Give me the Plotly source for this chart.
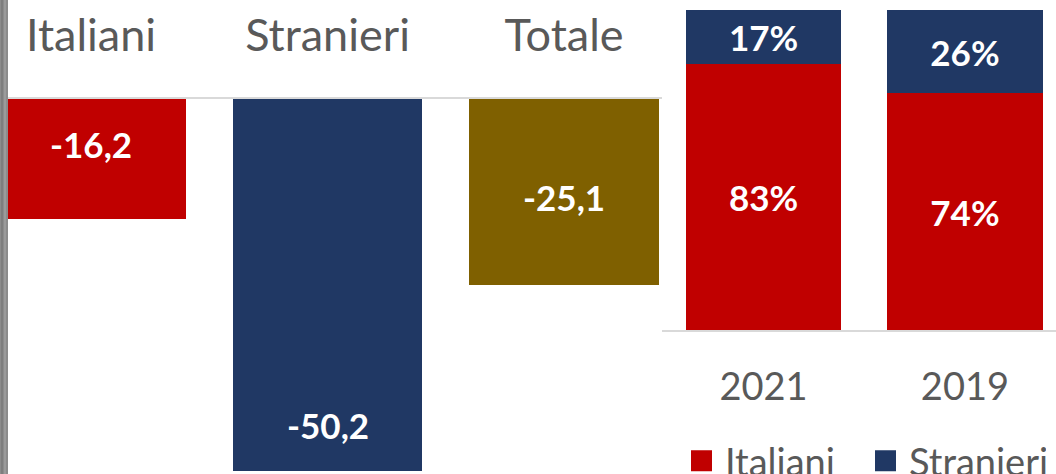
import plotly.graph_objects as go

# ---- data ----
categories = ["Italiani", "Stranieri", "Totale"]
variazione = [-16.2, -50.2, -25.1]
anni = ["2021", "2019"]
quota_italiani = [83, 74]
quota_stranieri = [17, 26]
serie_nomi = ["Italiani", "Stranieri"]

# ---- style ----
RED = "#C00000"
NAVY = "#203864"
OLIVE = "#7F6000"
GREY_TXT = "#595959"
LINE = "#D9D9D9"
FONT = "Lato"
W, H = 1056, 474


def fx(p):
    return p / W


def fy(p):
    return 1 - p / H


fig = go.Figure()

# left: variation bars
fig.add_trace(go.Bar(
    x=categories, y=variazione, width=0.8,
    marker=dict(color=[RED, NAVY, OLIVE], line_width=0),
    xaxis="x", yaxis="y", showlegend=False, hoverinfo="skip",
))

# right: composition stacked bars
fig.add_trace(go.Bar(
    x=anni, y=quota_italiani, name=serie_nomi[0], width=0.77,
    marker=dict(color=RED, line_width=0),
    texttemplate="%{y}%", textposition="inside", insidetextanchor="middle",
    constraintext="none",
    textfont=dict(family=FONT, size=35, color="white", weight="bold"),
    xaxis="x2", yaxis="y2", showlegend=False, hoverinfo="skip",
))
fig.add_trace(go.Bar(
    x=anni, y=quota_stranieri, name=serie_nomi[1], width=0.77,
    marker=dict(color=NAVY, line_width=0),
    texttemplate="%{y}%", textposition="inside", insidetextanchor="middle",
    constraintext="none",
    textfont=dict(family=FONT, size=35, color="white", weight="bold"),
    xaxis="x2", yaxis="y2", showlegend=False, hoverinfo="skip",
))

# legend entries
for nome, col in zip(serie_nomi, [RED, NAVY]):
    fig.add_trace(go.Scatter(
        x=[None], y=[None], mode="markers", name=nome,
        marker=dict(symbol="square", size=16, color=col, line=dict(color=col, width=5)),
        xaxis="x2", yaxis="y2", showlegend=True, hoverinfo="skip",
    ))

# left data labels
shifts = [15, 46, -5]
for cat, v, s in zip(categories, variazione, shifts):
    y = v if cat == "Stranieri" else v / 2
    fig.add_annotation(
        x=cat, y=y, xref="x", yref="y", yshift=s, showarrow=False,
        text=f"{v:.1f}".replace(".", ","),
        font=dict(family=FONT, size=35, color="white", weight="bold"),
    )

# textured stone strip on the left edge
fig.add_shape(type="rect", xref="paper", yref="paper", x0=0, x1=fx(8), y0=0, y1=1,
              fillcolor="#8c8c8c", line_width=0, layer="above")
for xp, c in [(2, "#7a7a7a"), (5, "#a0a0a0")]:
    fig.add_shape(type="line", xref="paper", yref="paper", x0=fx(xp), x1=fx(xp), y0=0, y1=1,
                  line=dict(color=c, width=1.5), layer="above")

fig.update_layout(
    width=W, height=H,
    margin=dict(l=0, r=0, t=0, b=0, autoexpand=False),
    paper_bgcolor="white", plot_bgcolor="white",
    barmode="stack",
    separators=",.",
    xaxis=dict(
        domain=[0, fx(683)], range=[-0.385, 2.503], side="top", anchor="y",
        showline=True, linecolor=LINE, linewidth=2, ticks="", showgrid=False,
        zeroline=False, ticklabelstandoff=28,
        tickfont=dict(family=FONT, size=45, color=GREY_TXT),
    ),
    yaxis=dict(domain=[0, fy(99)], range=[-50.6, 0], visible=False, anchor="x"),
    xaxis2=dict(
        domain=[fx(662), 1], range=[-0.504, 1.452], side="bottom", anchor="y2",
        showline=True, linecolor=LINE, linewidth=2, ticks="", showgrid=False,
        zeroline=False, ticklabelstandoff=22,
        tickfont=dict(family=FONT, size=38, color=GREY_TXT),
    ),
    yaxis2=dict(domain=[fy(330), fy(10)], range=[0, 100], visible=False, anchor="x2"),
    legend=dict(
        orientation="h", x=fx(678), xanchor="left", y=fy(461), yanchor="middle",
        traceorder="normal", entrywidth=132, entrywidthmode="pixels", itemwidth=37,
        font=dict(family=FONT, size=38, color=GREY_TXT),
        bgcolor="rgba(0,0,0,0)", borderwidth=0,
    ),
)

fig.write_html("out.html", config={"displayModeBar": False},
               post_script="document.body.style.margin='0';")
